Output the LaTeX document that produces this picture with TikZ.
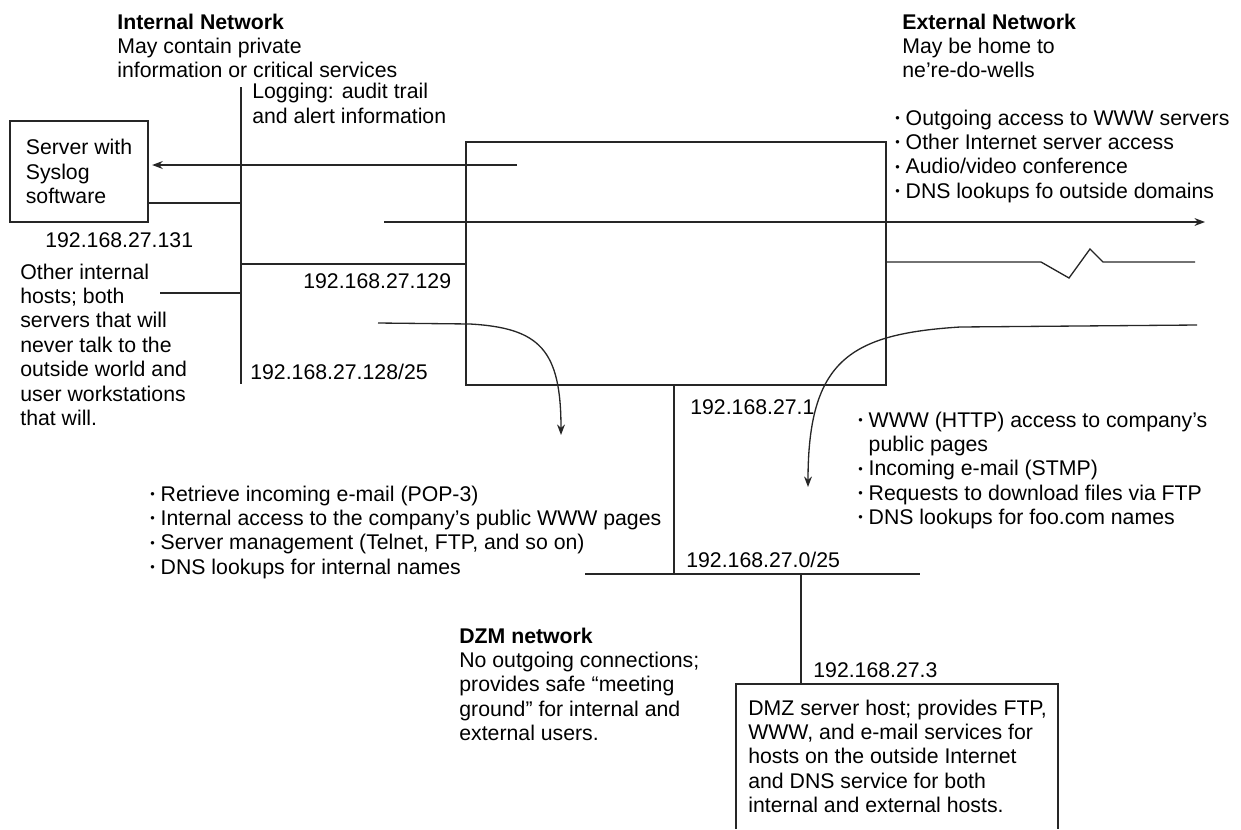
\documentclass[tikz,border=0pt]{standalone}
\usepackage{fontspec}
\setmainfont{Liberation Sans}
\usepackage{tikz}
\usetikzlibrary{arrows.meta, calc, positioning}

\newcommand{\bul}{\raisebox{0.25ex}{\scalebox{0.6}{•}}\ }

\begin{document}
\begin{tikzpicture}[>={Stealth[length=6pt, width=4.5pt]}, x=0.02cm, y=-0.02cm]
	% base of a text node = baseline of its last line
	\tikzstyle{txt} = [anchor=base west, inner sep=0pt, align=left, font=\fontsize{12.1}{13.9}\selectfont]
	\tikzstyle{wire} = [line width=0.75pt, black!85]
	\tikzstyle{boxed} = [draw, line width=0.75pt, black!85, text=black]

	\useasboundingbox (0,0) rectangle (1241,829);

	% headings
	\node[txt] (intnet) at (117,77.9) {\textbf{Internal Network}\\May contain private\\information or critical services};
	\node[txt] (extnet) at (902,77.9) {\textbf{External Network}\\May be home to\\ne're-do-wells};
	\node[txt] (logtxt) at (252,123.4) {Logging: audit trail\\and alert information};

	% internal side
	\coordinate (lanT) at (241,87);
	\coordinate (lanB) at (241,384);
	\draw[wire] (lanT) -- (lanB);

	\node[boxed, minimum width=2.76cm, minimum height=2.02cm, align=left, font=\fontsize{12.1}{13.9}\selectfont] (syslog) at (79,171.5) {Server with\\Syslog\\software};
	\node[txt] (ip131) at (45,247) {192.168.27.131};

	\node[boxed, minimum width=8.4cm, minimum height=4.86cm] (fw) at (676,263.5) {};

	\coordinate (logsrc) at (517,165);
	\draw[wire, ->, shorten >=2pt] (logsrc) -- (syslog.east |- logsrc);
	\draw[wire] (syslog.east |- 0,203) -- (lanB |- 0,203);
	\draw[wire] (lanB |- 0,264) -- (fw.west |- 0,264);

	\node[txt] (others) at (20,425.6) {Other internal\\hosts; both\\servers that will\\never talk to the\\outside world and\\user workstations\\that will.};
	\coordinate (othL) at (160,293);
	\draw[wire] (othL) -- (othL -| lanB);
	\node[txt] (ip129) at (303,288) {192.168.27.129};
	\node[txt] (ip128) at (250,379) {192.168.27.128/25};

	% external side
	\node[txt] (outlist) at (895,198.3) {\bul Outgoing access to WWW servers\\\bul Other Internet server access\\\bul Audio/video conference\\\bul DNS lookups fo outside domains};

	\coordinate (outsrc) at (384,222);
	\coordinate (outdst) at (1205,222);
	\draw[wire, ->] (outsrc) -- (outdst);

	\coordinate (wanend) at (1195,262);
	\draw[wire] (fw.east |- wanend) -- (1041,262) -- (1069,278) -- (1090,249) -- (1103,262) -- (wanend);

	\coordinate (inR) at (1197,325);
	\coordinate (inRend) at (808,487);
	\draw[wire, ->] (inR) -- (960,327) .. controls (850,334) and (808,360) .. (inRend);

	\coordinate (inL) at (378,323);
	\coordinate (inLend) at (561,435);
	\draw[wire, ->] (inL) -- (470,324) .. controls (540,328) and (561,350) .. (inLend);

	\node[txt] (inlist) at (150,574.3) {\bul Retrieve incoming e-mail (POP-3)\\\bul Internal access to the company’s public WWW pages\\\bul Server management (Telnet, FTP, and so on)\\\bul DNS lookups for internal names};
	\node[txt] (extlist) at (858,524.7) {\bul WWW (HTTP) access to company’s\\\hphantom{\bul}public pages\\\bul Incoming e-mail (STMP)\\\bul Requests to download files via FTP\\\bul DNS lookups for foo.com names};

	% DMZ
	\node[txt] (ip1) at (690,414) {192.168.27.1};
	\coordinate (dmzL) at (585,574);
	\coordinate (dmzR) at (920,574);
	\draw[wire] (dmzL) -- (dmzR);
	\draw[wire] (fw.south -| 674,0) -- (674,0 |- dmzL);
	\node[txt] (ip0) at (686,567) {192.168.27.0/25};

	\coordinate (dmzTL) at (736,684);
	\coordinate (dmzBR) at (1058,829);
	\draw[wire] (dmzL -| 801,0) -- (dmzTL -| 801,0);
	\node[txt] (ip3) at (813,677) {192.168.27.3};
	\draw[wire] (dmzTL |- dmzBR) -- (dmzTL) -- (dmzTL -| dmzBR) -- (dmzBR);
	\node[txt] (dmztxt) at (748,812.7) {DMZ server host; provides FTP,\\WWW, and e-mail services for\\hosts on the outside Internet\\and DNS service for both\\internal and external hosts.};

	\node[txt] (dzm) at (459,740.7) {\textbf{DZM network}\\No outgoing connections;\\provides safe “meeting\\ground” for internal and\\external users.};
\end{tikzpicture}
\end{document}
